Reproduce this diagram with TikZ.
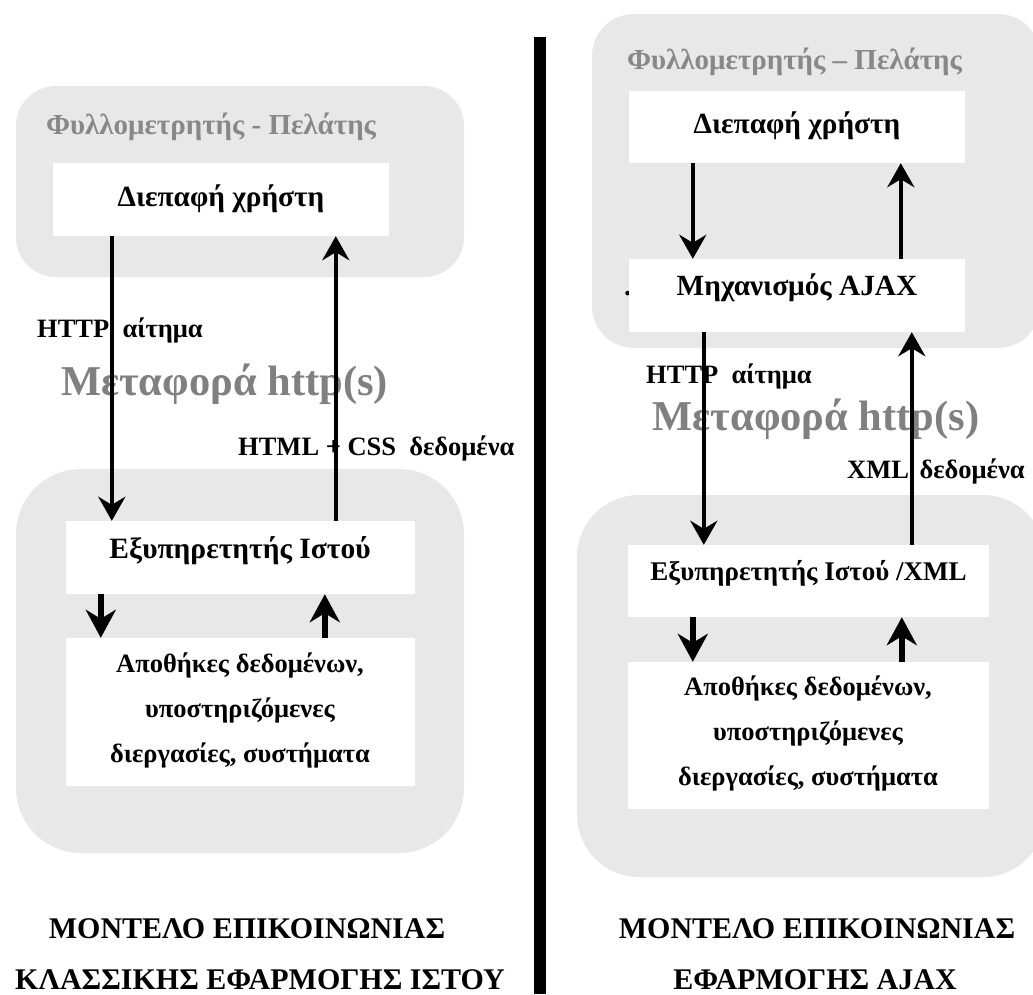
\documentclass[tikz,border=0pt]{standalone}
\usepackage{fontspec}
\setmainfont{Liberation Serif}
\usetikzlibrary{arrows.meta,fit}
\definecolor{panelgray}{HTML}{E8E8E8}
\definecolor{titlegray}{HTML}{888888}
\definecolor{biggray}{HTML}{808080}
\begin{document}
\begin{tikzpicture}[x=1pt,y=-1pt,
  panel/.style={fill=panelgray, draw=none, inner sep=0pt},
  wbox/.style={fill=white, draw=none, inner sep=0pt},
  boxtxt/.style={anchor=base, inner sep=0pt, font=\fontsize{29.3}{35}\selectfont\bfseries},
  srvtxt/.style={boxtxt, font=\fontsize{29.5}{35}\selectfont\bfseries},
  sttxt/.style={boxtxt, font=\fontsize{26.5}{32}\selectfont\bfseries},
  titletxt/.style={anchor=base, inner sep=0pt, text=titlegray, font=\fontsize{29}{35}\selectfont\bfseries},
  bigtxt/.style={anchor=base, inner sep=0pt, text=biggray, font=\fontsize{42.5}{50}\selectfont\bfseries},
  lbl/.style={anchor=base west, inner sep=0pt, font=\fontsize{26.5}{32}\selectfont\bfseries},
  captxt/.style={anchor=base, inner sep=0pt, font=\fontsize{30}{36}\selectfont\bfseries},
  longarr/.style={line width=4pt, -{Stealth[length=24pt,width=27pt,inset=8pt]}},
  shortarr/.style={line width=6pt, -{Stealth[length=28pt,width=30pt,inset=9pt]}},
]
\useasboundingbox (0,0) rectangle (1033,994);

% ---------- classic web application ----------
\node[panel, rounded corners=40pt, fit={(16,86) (464,277)}] (clientL) {};
\node[panel, rounded corners=65pt, fit={(16,469) (464,853)}] (serverL) {};
\node[wbox, fit={(53,163) (389,236)}] (uiL) {};
\node[wbox, fit={(66,521) (415,594)}] (srvL) {};
\node[wbox, fit={(66,638) (415,786)}] (stL) {};

\node[titletxt] (tClientL) at (211,134) {Φυλλομετρητής - Πελάτης};
\node[boxtxt] (tUiL) at (221,206) {Διεπαφή χρήστη};
\node[lbl] (lReqL) at (37,337) {HTTP\hspace{0.5em}αίτημα};
\node[bigtxt] (tTransL) at (224.5,395) {Μεταφορά http(s)};
\node[lbl] (lRespL) at (238,455) {HTML + CSS\hspace{0.5em}δεδομένα};
\node[srvtxt] (tSrvL) at (240,558) {Εξυπηρετητής Ιστού};
\node[sttxt] (tStL1) at (240,672) {Αποθήκες δεδομένων,};
\node[sttxt] (tStL2) at (240,717) {υποστηριζόμενες};
\node[sttxt] (tStL3) at (240,762) {διεργασίες, συστήματα};

\draw[longarr] ([xshift=59pt]uiL.south west) -- ([xshift=46pt]srvL.north west);
\draw[longarr] ([xshift=270pt]srvL.north west) -- ([xshift=283pt]uiL.south west);
\draw[shortarr] ([xshift=35pt]srvL.south west) -- ([xshift=35pt]stL.north west);
\draw[shortarr] ([xshift=259pt]stL.north west) -- ([xshift=259pt]srvL.south west);

\node[captxt] (capL1) at (247,938) {ΜΟΝΤΕΛΟ ΕΠΙΚΟΙΝΩΝΙΑΣ};
\node[captxt] (capL2) at (260,989) {ΚΛΑΣΣΙΚΗΣ ΕΦΑΡΜΟΓΗΣ ΙΣΤΟΥ};

% ---------- separator ----------
\coordinate (sepTop) at (539.5,37);
\coordinate (sepBot) at (539.5,994);
\draw[line width=12pt] (sepTop) -- (sepBot);

% ---------- AJAX application ----------
\node[panel, rounded corners=42pt, fit={(592,14) (1040,348)}] (clientR) {};
\node[panel, rounded corners=62pt, fit={(577,495) (1045,877)}] (serverR) {};
\node[inner sep=0pt, anchor=base west, font=\fontsize{28.5}{34}\selectfont\bfseries] (dotR) at (624,295) {.};
\node[wbox, fit={(629,91) (965,163)}] (uiR) {};
\node[wbox, fit={(629,259) (965,332)}] (ajax) {};
\node[wbox, fit={(628,545) (989,617)}] (srvR) {};
\node[wbox, fit={(628,662) (989,809)}] (stR) {};

\node[titletxt] (tClientR) at (794.5,69) {Φυλλομετρητής – Πελάτης};
\node[boxtxt] (tUiR) at (797,133) {Διεπαφή χρήστη};
\node[boxtxt] (tAjax) at (797,295) {Μηχανισμός AJAX};
\node[lbl] (lReqR) at (646,383) {HTTP\hspace{0.5em}αίτημα};
\node[bigtxt] (tTransR) at (816,430) {Μεταφορά http(s)};
\node[lbl] (lRespR) at (847,478) {XML\hspace{0.4em}δεδομένα};
\node[boxtxt, font=\fontsize{27}{32}\selectfont\bfseries] (tSrvR) at (808.5,580) {Εξυπηρετητής Ιστού /XML};
\node[sttxt] (tStR1) at (808,695) {Αποθήκες δεδομένων,};
\node[sttxt] (tStR2) at (808,740) {υποστηριζόμενες};
\node[sttxt] (tStR3) at (808,785) {διεργασίες, συστήματα};

\draw[longarr] ([xshift=64pt]uiR.south west) -- ([xshift=64pt]ajax.north west);
\draw[longarr] ([xshift=272pt]ajax.north west) -- ([xshift=272pt]uiR.south west);
\draw[longarr] ([xshift=75pt]ajax.south west) -- ([xshift=76pt]srvR.north west);
\draw[longarr] ([xshift=284pt]srvR.north west) -- ([xshift=283pt]ajax.south west);
\draw[shortarr] ([xshift=65pt]srvR.south west) -- ([xshift=65pt]stR.north west);
\draw[shortarr] ([xshift=274pt]stR.north west) -- ([xshift=274pt]srvR.south west);

\node[captxt] (capR1) at (817,938) {ΜΟΝΤΕΛΟ ΕΠΙΚΟΙΝΩΝΙΑΣ};
\node[captxt] (capR2) at (815,989) {ΕΦΑΡΜΟΓΗΣ AJAX};
\end{tikzpicture}
\end{document}
